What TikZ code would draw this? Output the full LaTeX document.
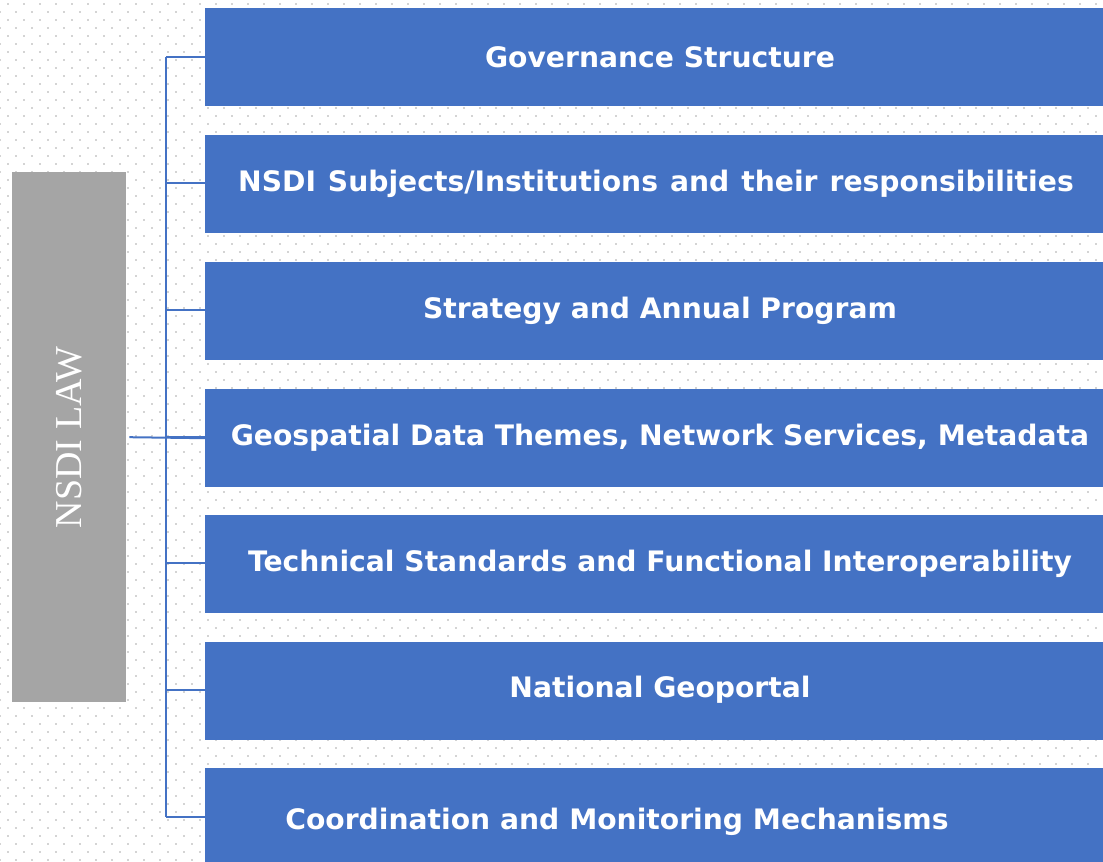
\documentclass[tikz,border=0pt]{standalone}
\usepackage{fontspec}
\setmainfont{DejaVu Sans}
\newfontfamily\lawfont{Liberation Serif}
\definecolor{boxblue}{HTML}{4472C4}
\definecolor{lawgray}{HTML}{A5A5A5}
\definecolor{dotgray}{HTML}{D4D4D4}
\begin{document}
\begin{tikzpicture}[x=1pt,y=-1pt,
  bluebox/.style={fill=boxblue, draw=none, anchor=north west, minimum width=898pt, minimum height=98pt, inner sep=0pt},
  boxtext/.style={text=white, font=\fontsize{28.2}{32}\selectfont\bfseries, inner sep=0pt},
  conn/.style={draw=boxblue, line width=2pt},
  lawbox/.style={fill=lawgray, draw=none, anchor=north west, minimum width=114pt, minimum height=530pt, inner sep=0pt}]
\useasboundingbox (0,0) rectangle (1103,862);
\fill[white] (0,0) rectangle (1103,862);
% dotted background
\foreach \r in {0,...,107}{
  \pgfmathsetmacro{\yy}{4+8*\r}
  \pgfmathsetmacro{\off}{mod(\r,2)==0 ? 8 : 0}
  \foreach \c in {0,...,69}{
    \fill[dotgray] (\off+16*\c-1,\yy-1) rectangle ++(2,2);
  }
}
% boxes
\node[bluebox] (b1) at (205,8) {};
\node[bluebox] (b2) at (205,135) {};
\node[bluebox] (b3) at (205,262) {};
\node[bluebox] (b4) at (205,389) {};
\node[bluebox] (b5) at (205,515) {};
\node[bluebox] (b6) at (205,642) {};
\node[bluebox] (b7) at (205,768) {};
% texts
\node[boxtext] (t1) at (660,57) {Governance Structure};
\node[boxtext] (t2) at (656,184) {\spaceskip=12pt NSDI Subjects/Institutions and their responsibilities};
\node[boxtext] (t3) at (660,311) {Strategy and Annual Program};
\node[boxtext] (t4) at (660,438) {Geospatial Data Themes, Network Services, Metadata};
\node[boxtext] (t5) at (660,564) {Technical Standards and Functional Interoperability};
\node[boxtext] (t6) at (660,690) {National Geoportal};
\node[boxtext] (t7) at (617,822) {Coordination and Monitoring Mechanisms};
% law box
\node[lawbox] (law) at (12,172) {};
\node[text=white, rotate=90, font=\lawfont\fontsize{38}{40}\selectfont, inner sep=0pt] (lawtext) at (law.center) {NSDI LAW};
% connectors
\coordinate (s1) at (166,57);
\coordinate (s7) at (166,817);
\draw[conn] (s1) -- (s7);
\draw[conn] (s1) -- (b1.west |- s1);
\foreach \b/\y in {b2/183,b3/310,b4/437,b5/563,b6/690}{
  \draw[conn] (166,\y) -- (\b.west |- 0,\y);
}
\draw[conn] (s7) -- (b7.west |- s7);
\draw[conn] ([xshift=3pt]law.east) -- (b4.west);
\end{tikzpicture}
\end{document}
